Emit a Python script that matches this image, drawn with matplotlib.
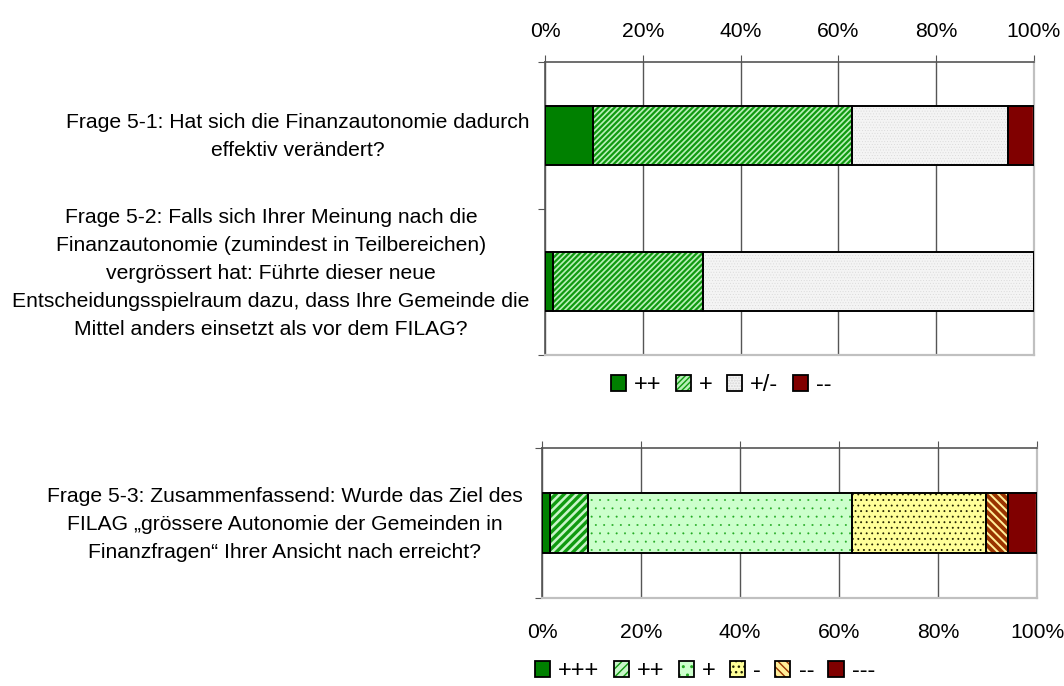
import numpy as np
import matplotlib
matplotlib.use('Agg')
import matplotlib.pyplot as plt
from matplotlib.patches import Patch
from matplotlib.legend_handler import HandlerTuple
from matplotlib.transforms import ScaledTranslation

plt.rcParams['font.family'] = ['Liberation Sans', 'DejaVu Sans']

# Frage 5-1 / 5-2
q12_labels = [
    'Frage 5-1: Hat sich die Finanzautonomie dadurch\neffektiv verändert?',
    'Frage 5-2: Falls sich Ihrer Meinung nach die\nFinanzautonomie (zumindest in Teilbereichen)\n'
    'vergrössert hat: Führte dieser neue\nEntscheidungsspielraum dazu, dass Ihre Gemeinde die\n'
    'Mittel anders einsetzt als vor dem FILAG?',
]
q12_cats = ['++', '+', '+/-', '--']
q12_pp = [9.8, 1.6]
q12_p = [52.9, 30.8]
q12_pm = [32.0, 67.6]
q12_mm = [5.3, 0.0]

# Frage 5-3
q3_labels = ['Frage 5-3: Zusammenfassend: Wurde das Ziel des\nFILAG „grössere Autonomie der Gemeinden in\n'
             'Finanzfragen“ Ihrer Ansicht nach erreicht?']
q3_cats = ['+++', '++', '+', '-', '--', '---']
q3_ppp = [1.7]
q3_pp = [7.6]
q3_p = [53.3]
q3_m = [27.1]
q3_mm = [4.5]
q3_mmm = [5.8]

x_ticks = [0, 20, 40, 60, 80, 100]
x_ticklabels = ['0%', '20%', '40%', '60%', '80%', '100%']

FS = 15.2
LS = 1.6
LFS = 17

# (face, hatch, hatch colour, hatch linewidth)
style12 = [('#008000', None, None, 1),
           ('#b8f0b8', '//////', '#109a10', 1.6),
           ('#f4f4f4', '......', '#d6d6d6', 0.3),
           ('#800000', None, None, 1)]
style3 = [('#008000', None, None, 1),
          ('#c8f5c8', '////', '#109a10', 2.4),
          ('#ccffcc', '..', '#22aa22', 0.2),
          ('#ffff99', '...', '#222200', 0.6),
          ('#ffee99', '\\\\\\\\', '#993300', 2.8),
          ('#800000', None, None, 1)]


def hpatch(fc, hatch, hc, hlw, **kw):
    with plt.rc_context({'hatch.linewidth': hlw}):
        p = Patch(facecolor=fc, hatch=hatch, edgecolor=hc if hc else fc, linewidth=0, **kw)
    if hasattr(p, 'set_hatch_linewidth'):
        p.set_hatch_linewidth(hlw)
    return p


def stacked(ax, ypos, series, styles):
    left = np.zeros(len(ypos))
    for vals, (fc, hatch, hc, hlw) in zip(series, styles):
        vals = np.array(vals)
        with plt.rc_context({'hatch.linewidth': hlw}):
            bars = ax.barh(ypos, vals, 0.4, left=left, color=fc, hatch=hatch,
                           edgecolor=hc if hc else fc, linewidth=0, zorder=2)
        for b in bars:
            if hasattr(b, 'set_hatch_linewidth'):
                b.set_hatch_linewidth(hlw)
        ax.barh(ypos, vals, 0.4, left=left, fill=False, edgecolor='black',
                linewidth=1.4, zorder=3)
        left += vals


def handles(styles):
    hs = []
    for fc, hatch, hc, hlw in styles:
        h1 = hpatch(fc, hatch, hc, hlw)
        h2 = Patch(fill=False, edgecolor='black', linewidth=1.3)
        hs.append((h1, h2))
    return hs


def style_axes(ax, n):
    ax.set_xlim(0, 100)
    ax.set_xticks(x_ticks)
    ax.set_xticklabels(x_ticklabels, fontsize=FS)
    ax.grid(axis='x', color='#555555', linewidth=1.0, zorder=0)
    ax.set_axisbelow(True)
    ax.set_ylim(n - 0.5, -0.5)
    ax.set_yticks(np.arange(n + 1) - 0.5)
    ax.set_yticklabels([])
    ax.tick_params(axis='y', which='major', length=5, color='#555555', direction='out')
    for s in ['top', 'left']:
        ax.spines[s].set_color('#555555')
        ax.spines[s].set_linewidth(1.2)
    for s in ['bottom', 'right']:
        ax.spines[s].set_color('#c0c0c0')
        ax.spines[s].set_linewidth(1.6)
    ax.tick_params(axis='x', which='major', length=5, color='#555555',
                   top=True, bottom=False)


def label_text(ax, offsets):
    for t, dy in zip(ax.get_yticklabels(minor=True), offsets):
        t.set_multialignment('center')
        t.set_linespacing(LS)
        t.set_transform(t.get_transform() + ScaledTranslation(0, dy / 100, fig.dpi_scale_trans))


fig = plt.figure(figsize=(10.64, 6.86), dpi=100)

ax1 = fig.add_axes([545 / 1064, 1 - 355 / 686, 489 / 1064, 293 / 686])
stacked(ax1, np.arange(2), [q12_pp, q12_p, q12_pm, q12_mm], style12)
style_axes(ax1, 2)
ax1.tick_params(axis='x', labeltop=True, labelbottom=False, pad=10)
ax1.set_yticks(np.arange(2), q12_labels, minor=True)
ax1.tick_params(axis='y', which='minor', length=0, pad=11, labelsize=FS)
label_text(ax1, [5, 15])

ax2 = fig.add_axes([542 / 1064, 1 - 598 / 686, 495 / 1064, 150 / 686])
stacked(ax2, np.arange(1), [q3_ppp, q3_pp, q3_p, q3_m, q3_mm, q3_mmm], style3)
style_axes(ax2, 1)
ax2.tick_params(axis='x', labeltop=False, labelbottom=True, pad=13)
ax2.set_yticks(np.arange(1), q3_labels, minor=True)
ax2.tick_params(axis='y', which='minor', length=0, pad=14, labelsize=FS)
label_text(ax2, [5])

hmap = {tuple: HandlerTuple(ndivide=1, pad=0)}
fig.legend(handles(style12), q12_cats, handler_map=hmap, loc='center',
           bbox_to_anchor=(721 / 1064, 1 - 385 / 686), ncol=4, frameon=False,
           fontsize=LFS, handlelength=0.64, handleheight=0.64, handletextpad=0.35,
           columnspacing=0.6)
fig.legend(handles(style3), q3_cats, handler_map=hmap, loc='center',
           bbox_to_anchor=(705 / 1064, 1 - 671 / 686), ncol=6, frameon=False,
           fontsize=LFS, handlelength=0.64, handleheight=0.64, handletextpad=0.35,
           columnspacing=0.6)

fig.savefig('out.png', dpi=100)
